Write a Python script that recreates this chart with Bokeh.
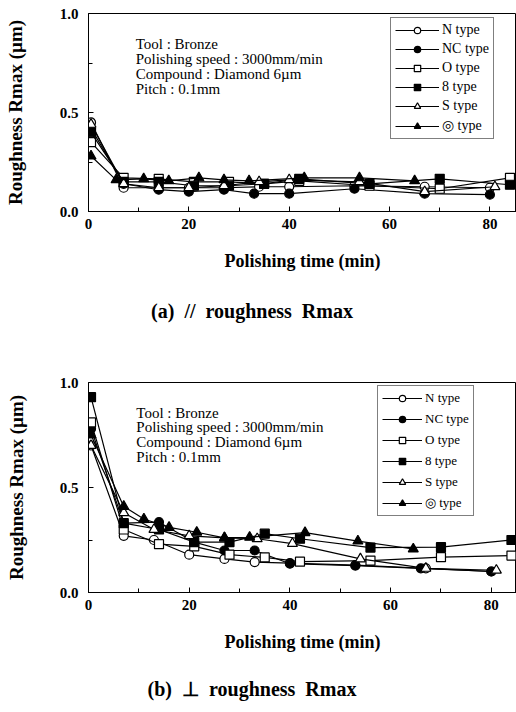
from bokeh.plotting import figure
from bokeh.layouts import column
from bokeh.models import (Legend, LegendItem, FixedTicker, Range1d, Label,
                          PrintfTickFormatter, Div)
from bokeh.embed import file_html
from bokeh.resources import INLINE

# ---------------- data ----------------
SERIES = ["N type", "NC type", "O type", "8 type", "S type", "\u25ce type"]
MARKERS = ["circle", "circle", "square", "square", "triangle", "triangle"]
FILLED = [False, True, False, True, False, True]

# (a) // roughness Rmax
A_T_N = [0.5, 7, 14, 20, 27, 34, 40, 53, 67, 80]
A_Y_N = [0.45, 0.12, 0.12, 0.12, 0.12, 0.125, 0.125, 0.13, 0.125, 0.12]
A_T_NC = [0.5, 7, 14, 20, 27, 33, 40, 53, 67, 80]
A_Y_NC = [0.42, 0.14, 0.11, 0.10, 0.11, 0.09, 0.09, 0.115, 0.09, 0.085]
A_T_O = [0.5, 7, 14, 21, 28, 35, 42, 56, 70, 84]
A_Y_O = [0.35, 0.17, 0.165, 0.15, 0.15, 0.14, 0.155, 0.13, 0.115, 0.17]
A_T_8 = [0.5, 7, 14, 21, 28, 35, 42, 56, 70, 84]
A_Y_8 = [0.40, 0.15, 0.15, 0.13, 0.13, 0.14, 0.165, 0.14, 0.165, 0.135]
A_T_S = [0.5, 7, 14, 20, 27, 34, 40, 54, 67, 81]
A_Y_S = [0.44, 0.14, 0.12, 0.12, 0.13, 0.15, 0.16, 0.15, 0.10, 0.125]
A_T_W = [0.5, 5.5, 11, 16, 22, 27, 32, 43, 54, 65]
A_Y_W = [0.28, 0.16, 0.165, 0.155, 0.17, 0.16, 0.155, 0.17, 0.17, 0.155]

# (b) perpendicular roughness Rmax
B_T_N = [0.5, 7, 13, 20, 27, 33, 40, 53, 67, 80]
B_Y_N = [0.70, 0.27, 0.25, 0.18, 0.16, 0.145, 0.14, 0.13, 0.115, 0.10]
B_T_NC = [0.5, 7, 14, 21, 27, 33, 40, 53, 66, 80]
B_Y_NC = [0.78, 0.33, 0.335, 0.24, 0.20, 0.20, 0.137, 0.128, 0.115, 0.10]
B_T_O = [0.5, 7, 14, 21, 28, 35, 42, 56, 70, 84]
B_Y_O = [0.81, 0.30, 0.23, 0.22, 0.18, 0.167, 0.147, 0.152, 0.168, 0.176]
B_T_8 = [0.5, 7, 14, 21, 28, 35, 42, 56, 70, 84]
B_Y_8 = [0.93, 0.33, 0.30, 0.24, 0.24, 0.28, 0.256, 0.214, 0.216, 0.25]
B_T_S = [0.5, 7, 13, 20, 27, 33.5, 40.5, 54, 67, 81]
B_Y_S = [0.70, 0.38, 0.30, 0.27, 0.26, 0.256, 0.233, 0.16, 0.115, 0.106]
B_T_W = [0.5, 7, 11, 16, 21.5, 27, 32, 43, 53.5, 64.5]
B_Y_W = [0.75, 0.41, 0.35, 0.31, 0.287, 0.26, 0.263, 0.285, 0.245, 0.207]

A_DATA = [(A_T_N, A_Y_N), (A_T_NC, A_Y_NC), (A_T_O, A_Y_O),
          (A_T_8, A_Y_8), (A_T_S, A_Y_S), (A_T_W, A_Y_W)]
B_DATA = [(B_T_N, B_Y_N), (B_T_NC, B_Y_NC), (B_T_O, B_Y_O),
          (B_T_8, B_Y_8), (B_T_S, B_Y_S), (B_T_W, B_Y_W)]

NOTES = ["Tool : Bronze", "Polishing speed : 3000mm/min",
         "Compound : Diamond 6\u00b5m", "Pitch : 0.1mm"]
X_TICKS = [0, 20, 40, 60, 80]
X_MINOR = [10, 30, 50, 70]
Y_TICKS = [0.0, 0.5, 1.0]
Y_MINOR = [0.25, 0.75]
X_LABEL = "Polishing time (min)"
Y_LABEL = "Roughness Rmax (\u00b5m)"
CAPTION_A = "(a)\u00a0\u00a0//\u00a0\u00a0roughness\u00a0\u00a0Rmax"
CAPTION_B = "(b)\u00a0\u00a0\u22a5\u00a0\u00a0roughness\u00a0\u00a0Rmax"

SERIF = "Liberation Serif"


def make_plot(data, height, top, left, bottom, x_end, ylab_standoff,
              legend_xy, leg_font, leg_glyph_w, leg_spacing,
              note_x, note_y0, note_dy):
    p = figure(width=516, height=height, output_backend="svg",
               toolbar_location=None, x_range=Range1d(0, x_end),
               y_range=Range1d(0, 1.0), min_border_top=top,
               min_border_left=left, min_border_bottom=bottom,
               min_border_right=0)
    p.grid.visible = False
    p.outline_line_color = "black"
    p.outline_line_width = 1
    p.background_fill_color = "white"
    p.border_fill_color = "white"

    for ax in (p.xaxis[0], p.yaxis[0]):
        ax.axis_line_color = "black"
        ax.major_tick_in = 5
        ax.major_tick_out = 0
        ax.minor_tick_in = 4
        ax.minor_tick_out = 0
        ax.major_tick_line_color = "black"
        ax.minor_tick_line_color = "black"
        ax.major_label_text_font = SERIF
        ax.major_label_text_font_style = "bold"
        ax.major_label_text_font_size = "15px"
        ax.major_label_text_color = "black"
        ax.axis_label_text_font = SERIF
        ax.axis_label_text_font_style = "bold"
        ax.axis_label_text_color = "black"
    p.xaxis.ticker = FixedTicker(ticks=X_TICKS, minor_ticks=X_MINOR)
    p.yaxis.ticker = FixedTicker(ticks=Y_TICKS, minor_ticks=Y_MINOR)
    p.xaxis.formatter = PrintfTickFormatter(format="%d")
    p.yaxis.formatter = PrintfTickFormatter(format="%.1f")
    p.xaxis.axis_label = X_LABEL
    p.yaxis.axis_label = Y_LABEL
    p.xaxis.axis_label_text_font_size = "18px"
    p.yaxis.axis_label_text_font_size = "19px"
    p.xaxis.major_label_standoff = 7
    p.xaxis.axis_label_standoff = 19
    p.yaxis.major_label_standoff = 10
    p.yaxis.axis_label_standoff = ylab_standoff

    items = []
    for name, mk, fl, (t, y) in zip(SERIES, MARKERS, FILLED, data):
        lr = p.line(t, y, line_color="black", line_width=1.2)
        size = 10 if mk == "triangle" else 9
        sr = p.scatter(t, y, marker=mk, size=size, line_color="black",
                       line_width=1.2,
                       fill_color="black" if fl else "white")
        items.append(LegendItem(label=name, renderers=[lr, sr]))

    legend = Legend(items=items, location=legend_xy)
    legend.label_text_font = SERIF
    legend.label_text_font_size = leg_font
    legend.label_text_color = "black"
    legend.glyph_width = leg_glyph_w
    legend.glyph_height = 16
    legend.label_height = 16
    legend.spacing = leg_spacing
    legend.padding = 4
    legend.label_standoff = 3
    legend.border_line_color = "black"
    legend.border_line_width = 1
    legend.background_fill_alpha = 1
    p.add_layout(legend, "center")

    for i, txt in enumerate(NOTES):
        p.add_layout(Label(x=note_x, y=note_y0 - i * note_dy, text=txt,
                           text_font=SERIF, text_font_size="15px",
                           text_baseline="middle", text_color="black"))
    return p


def caption_div(text, height, top_margin):
    return Div(text=text, width=504, height=height,
               margin=(top_margin, 0, 0, 0),
               styles={"font-family": SERIF, "font-weight": "bold",
                       "font-size": "20px", "color": "black",
                       "text-align": "center",
                       "line-height": "%dpx" % height,
                       "width": "504px"})


pa = make_plot(A_DATA, height=290, top=13, left=88, bottom=79, x_end=85.3,
               ylab_standoff=31, legend_xy=(302, 72), leg_font="14px",
               leg_glyph_w=44, leg_spacing=3, note_x=9.4, note_y0=0.848,
               note_dy=0.076)
cap_a = caption_div(CAPTION_A, 42, 0)
pb = make_plot(B_DATA, height=332, top=50, left=86, bottom=72, x_end=85.0,
               ylab_standoff=30, legend_xy=(289, 76), leg_font="13px",
               leg_glyph_w=40, leg_spacing=5, note_x=9.5, note_y0=0.857,
               note_dy=0.071)
cap_b = caption_div(CAPTION_B, 42, 4)

layout = column(pa, cap_a, pb, cap_b, spacing=0)
open("out.html", "w").write(file_html(layout, INLINE))
